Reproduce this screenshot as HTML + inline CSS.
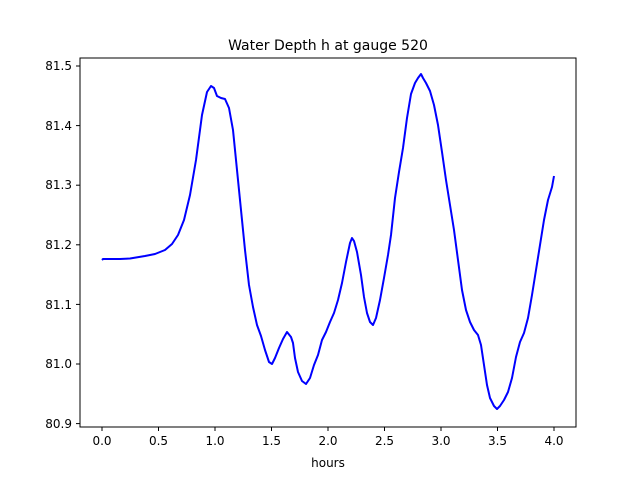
<!DOCTYPE html>
<html><head><meta charset="utf-8"><style>body{margin:0;background:#fff}svg{display:block;font-family:"DejaVu Sans","Liberation Sans",sans-serif}</style></head><body>
<svg width="640" height="480" viewBox="0 0 640 480">
<rect width="640" height="480" fill="#fff"/>
<text x="328" y="50" font-size="14" text-anchor="middle">Water Depth h at gauge 520</text>
<polyline fill="none" stroke="#0000ff" stroke-width="2" stroke-linejoin="round" points="102,260 103,259 120,259 130,258.5 145,256 155,254 165,250 172,244 178,235 184,220 190,195 196,160 202,115 207,92 211,86 214,88 217,96 221,98 225,99 229,108 233,130 237,170 241,210 245,250 249,285 253,307 257,325 261,336 265,350 269,362 272,364 275,358 279,348 283,339 287,332 291,337 293,343 295,358 298,372 302,381 306,384 310,378 314,365 318,355 322,340 326,332 330,322 334,313 338,300 342,283 346,262 350,243 352,238 354,241 357,252 361,275 364,297 367,313 370,322 373,325 376,318 380,300 384,278 388,255 391,235 395,198 399,172 403,148 407,118 411,94 415,83 418,78 421,74 423,78 426,83 430,91 434,105 438,125 442,152 446,180 450,205 454,230 458,260 462,290 466,310 470,322 474,330 478,335 481,345 484,365 487,385 490,398 494,406 497,409 500,406 504,400 508,392 512,378 516,357 520,342 524,333 528,318 532,295 536,270 540,245 544,220 548,200 552,187 554,176"/>
<rect x="80" y="58" width="496" height="369" fill="none" stroke="#000" stroke-width="1"/>
<g stroke="#000" stroke-width="1">
<line x1="102" y1="427" x2="102" y2="431"/><line x1="158.5" y1="427" x2="158.5" y2="431"/><line x1="215" y1="427" x2="215" y2="431"/><line x1="271.5" y1="427" x2="271.5" y2="431"/><line x1="328" y1="427" x2="328" y2="431"/><line x1="384.5" y1="427" x2="384.5" y2="431"/><line x1="441" y1="427" x2="441" y2="431"/><line x1="497.5" y1="427" x2="497.5" y2="431"/><line x1="554" y1="427" x2="554" y2="431"/>
<line x1="76" y1="66" x2="80" y2="66"/><line x1="76" y1="125.6" x2="80" y2="125.6"/><line x1="76" y1="185.2" x2="80" y2="185.2"/><line x1="76" y1="244.8" x2="80" y2="244.8"/><line x1="76" y1="304.4" x2="80" y2="304.4"/><line x1="76" y1="364" x2="80" y2="364"/><line x1="76" y1="423.6" x2="80" y2="423.6"/>
</g>
<g font-size="12" text-anchor="middle">
<text x="102" y="445">0.0</text><text x="158.5" y="445">0.5</text><text x="215" y="445">1.0</text><text x="271.5" y="445">1.5</text><text x="328" y="445">2.0</text><text x="384.5" y="445">2.5</text><text x="441" y="445">3.0</text><text x="497.5" y="445">3.5</text><text x="554" y="445">4.0</text>
<text x="328" y="467">hours</text>
</g>
<g font-size="12" text-anchor="end">
<text x="72" y="70">81.5</text><text x="72" y="130">81.4</text><text x="72" y="189">81.3</text><text x="72" y="249">81.2</text><text x="72" y="309">81.1</text><text x="72" y="368">81.0</text><text x="72" y="428">80.9</text>
</g>
</svg>
</body></html>
